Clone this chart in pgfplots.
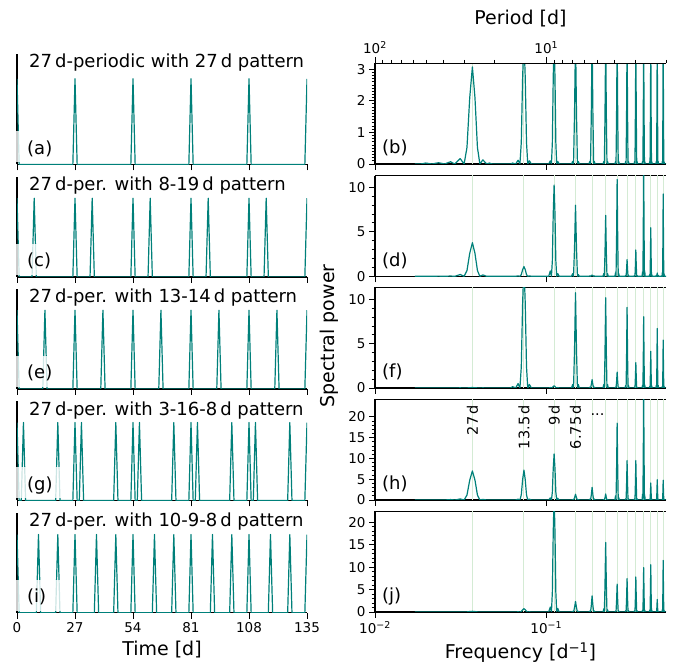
\documentclass[border=0pt]{standalone}
\usepackage{fontspec}
\setmainfont{DejaVu Sans}
\usepackage{pgfplots}
\usepackage{pgfplotstable}
\pgfplotsset{compat=1.18}
\definecolor{tl}{RGB}{0,128,122}
\definecolor{hg}{RGB}{212,235,212}
\newcommand\fs[1]{\fontsize{#1}{#1}\selectfont}

\pgfplotstableread{
f pb pd pf ph pj
0.0171 0 0 0 0 0
0.0185 0 0 0 0 0
0.0198 0.03 0 0 0.02 0
0.0215 0 0 0 0 0
0.0235 0.04 0.02 0 0.03 0
0.0255 0 0 0 0 0
0.0276 0.07 0.03 0 0.1 0
0.02924 0 0 0 0 0
0.03144 0.17 0.2 0.02 0.25 0.02
0.03314 0 0 0 0 0
0.03444 0.525 0.646 0.009 1.197 0.026
0.03574 2.100 2.586 0.034 4.788 0.103
0.03704 3.07 3.78 0.05 7.0 0.15
0.03834 2.100 2.586 0.034 4.788 0.103
0.03964 0.525 0.646 0.009 1.197 0.026
0.04094 0 0 0 0 0
0.04264 0.13 0.15 0.02 0.15 0.02
0.04484 0 0 0 0 0
0.0465 0.03 0 0 0 0
0.0485 0 0 0 0 0
0.0620 0 0 0 0 0
0.0636 0.03 0 0.15 0 0
0.06627 0 0 0 0 0
0.06847 0.12 0.05 0.5 0.2 0.05
0.07017 0 0 0 0 0
0.07147 0.684 0.186 2.394 1.231 0.127
0.07277 2.736 0.746 9.576 4.925 0.506
0.07407 4 1.09 14 7.2 0.74
0.07537 2.736 0.746 9.576 4.925 0.506
0.07667 0.684 0.186 2.394 1.231 0.127
0.07797 0 0 0 0 0
0.07967 0.10 0.05 0.4 0.2 0.05
0.08187 0 0 0 0 0
0.10331 0 0 0 0 0
0.10551 0.10 0.6 0.05 0.5 1.1
0.10721 0 0 0 0 0
0.10851 0.684 1.754 0.043 1.898 4.446
0.10981 2.736 7.018 0.171 7.592 17.78
0.11111 4 10.26 0.25 11.1 26
0.11241 2.736 7.018 0.171 7.592 17.78
0.11371 0.684 1.754 0.043 1.898 4.446
0.11501 0 0 0 0 0
0.11671 0.08 0.3 0.05 0.4 0.8
0.11891 0 0 0 0 0
0.14035 0 0 0 0 0
0.14255 0.08 0.3 0.4 0.1 0.15
0.14425 0 0 0 0 0
0.14615 1.56 3.11 4.19 0.53 0.92
0.14815 4 7.98 10.75 1.37 2.36
0.15015 1.56 3.11 4.19 0.53 0.92
0.15205 0 0 0 0 0
0.15375 0.08 0.2 0.4 0.1 0.15
0.15595 0 0 0 0 0
0.17739 0 0 0 0 0
0.17959 0.08 0.05 0.1 0.2 0.2
0.18129 0 0 0 0 0
0.18319 1.56 0.06 0.37 1.19 1.40
0.18519 4 0.15 0.94 3.06 3.6
0.18719 1.56 0.06 0.37 1.19 1.40
0.18909 0 0 0 0 0
0.19079 0.08 0.05 0.1 0.2 0.2
0.19299 0 0 0 0 0
0.21442 0 0 0 0 0
0.21662 0.08 0.3 0.4 0.1 0.7
0.21832 0 0 0 0 0
0.22022 1.56 2.67 3.97 0.57 6.05
0.22222 4 6.85 10.19 1.45 15.5
0.22422 1.56 2.67 3.97 0.57 6.05
0.22612 0 0 0 0 0
0.22782 0.08 0.3 0.4 0.1 0.5
0.23002 0 0 0 0 0
0.25146 0 0 0 0 0
0.25366 0.08 0.4 0.1 1.0 0.2
0.25536 0 0 0 0 0
0.25726 1.56 4.25 0.70 7.22 2.42
0.25926 4 10.9 1.8 18.5 6.2
0.26126 1.56 4.25 0.70 7.22 2.42
0.26316 0 0 0 0 0
0.26486 0.08 0.3 0.1 0.6 0.2
0.26706 0 0 0 0 0
0.28850 0 0 0 0 0
0.29070 0.08 0.1 0.3 0.3 0.3
0.29240 0 0 0 0 0
0.29430 1.56 0.73 3.55 3.71 2.91
0.29630 4 1.87 9.1 9.5 7.45
0.29830 1.56 0.73 3.55 3.71 2.91
0.30020 0 0 0 0 0
0.30190 0.08 0.1 0.3 0.3 0.3
0.30410 0 0 0 0 0
0.32553 0 0 0 0 0
0.32773 0.08 0.1 0.1 0.3 0.3
0.32943 0 0 0 0 0
0.33133 1.56 1.15 1.12 3.71 3.04
0.33333 4 2.96 2.86 9.5 7.8
0.33533 1.56 1.15 1.12 3.71 3.04
0.33723 0 0 0 0 0
0.33893 0.08 0.1 0.1 0.3 0.3
0.34113 0 0 0 0 0
0.36257 0 0 0 0 0
0.36477 0.08 0.5 0.3 1.4 0.4
0.36647 0 0 0 0 0
0.36837 1.56 5.07 3.14 10.53 3.86
0.37037 4 13 8.05 27 9.9
0.37237 1.56 5.07 3.14 10.53 3.86
0.37427 0 0 0 0 0
0.37597 0.08 0.5 0.3 1.0 0.4
0.37817 0 0 0 0 0
0.39961 0 0 0 0 0
0.40181 0.08 0.2 0.2 0.2 0.4
0.40351 0 0 0 0 0
0.40541 1.56 2.13 1.61 1.60 4.11
0.40741 4 5.47 4.14 4.1 10.55
0.40941 1.56 2.13 1.61 1.60 4.11
0.41131 0 0 0 0 0
0.41301 0.08 0.2 0.2 0.2 0.4
0.41521 0 0 0 0 0
0.43664 0 0 0 0 0
0.43884 0.08 0.1 0.3 0.2 0.15
0.44054 0 0 0 0 0
0.44244 1.56 0.14 2.62 1.91 1.09
0.44444 4 0.37 6.73 4.9 2.8
0.44644 1.56 0.14 2.62 1.91 1.09
0.44834 0 0 0 0 0
0.45004 0.08 0.1 0.3 0.2 0.15
0.45224 0 0 0 0 0
0.47368 0 0 0 0 0
0.47588 0.08 0.4 0.2 0.2 0.5
0.47758 0 0 0 0 0
0.47948 1.56 3.61 2.11 1.85 4.49
0.48148 4 9.25 5.41 4.75 11.5
0.48348 1.56 3.61 2.11 1.85 4.49
0.48538 0 0 0 0 0
0.48708 0.08 0.3 0.2 0.2 0.4
0.48928 0 0 0 0 0
0.5 0 0 0 0 0
}\spec

\pgfplotstableread{
f top
0.037037 100
0.074074 100
0.111111 100
0.148148 100
0.185185 100
0.222222 100
0.259259 100
0.296296 100
0.333333 100
0.370370 100
0.407407 100
0.444444 100
0.481481 100
}\harm

\pgfplotsset{
  mybase/.style={scale only axis, anchor=south west, clip mode=individual,
    tick style={black, line width=0.9pt},
    major tick length=6pt, minor tick length=3.5pt,
    tick label style={font=\fs{13.5}},
    /pgf/number format/assume math mode=true},
  mylines/.style={axis line style={-, line width=1.1pt, black}},
  mylp/.style 2 args={mybase, at={(17pt,#1)}, width=290pt, height=#2,
    xmin=0, xmax=135, ymin=0,
    axis x line=bottom, axis y line=left, mylines, tick align=outside,
    ytick=\empty, xtick={0,27,54,81,108,135}},
  myrp/.style 2 args={mybase, at={(375pt,#1)}, width=291pt, height=100.5pt,
    xmin=0.01, xmax=0.5, ymin=0, ymax=#2,
    axis x line=box, axis y line=left, mylines, tick align=outside,
    xtick pos=left, xtick={0.01,0.1}, xminorticks=false},
  spk/.style={tl, line width=1.2pt, line join=round},
  hl/.style={hg, line width=1pt, ycomb, no marks},
}

\begin{document}
\begin{tikzpicture}
\useasboundingbox (0pt,0pt) rectangle (678pt,669pt);

% ---------------- left column ----------------
\begin{axis}[mylp={504.5pt}{110.5pt}, ymax=1.29, xticklabels={}]
\addplot[spk] coordinates {(0,1)(1,0)(26,0)(27,1)(28,0)(53,0)(54,1)(55,0)(80,0)(81,1)(82,0)(107,0)(108,1)(109,0)(134,0)(135,1)};
\fill[white, fill opacity=0.8] ([xshift=-1.5pt,yshift=2pt]rel axis cs:0,0) rectangle ([xshift=44pt,yshift=33pt]rel axis cs:0,0);
\node[anchor=base west, inner sep=0pt, font=\fs{18}] at ([xshift=10pt,yshift=10pt]rel axis cs:0,0) {(a)};
\node[anchor=north west, inner sep=0pt, font=\fs{18}] at ([xshift=12pt]rel axis cs:0,1) {27\,d-periodic with 27\,d pattern};
\end{axis}

\begin{axis}[mylp={392pt}{100pt}, ymax=1.27, xticklabels={}]
\addplot[spk] coordinates {(0,1)(1,0)(7,0)(8,1)(9,0)(26,0)(27,1)(28,0)(34,0)(35,1)(36,0)(53,0)(54,1)(55,0)(61,0)(62,1)(63,0)(80,0)(81,1)(82,0)(88,0)(89,1)(90,0)(107,0)(108,1)(109,0)(115,0)(116,1)(117,0)(134,0)(135,1)};
\fill[white, fill opacity=0.8] ([xshift=-1.5pt,yshift=2pt]rel axis cs:0,0) rectangle ([xshift=44pt,yshift=33pt]rel axis cs:0,0);
\node[anchor=base west, inner sep=0pt, font=\fs{18}] at ([xshift=10pt,yshift=10pt]rel axis cs:0,0) {(c)};
\node[anchor=north west, inner sep=0pt, font=\fs{18}] at ([xshift=12pt]rel axis cs:0,1) {27\,d-per. with 8-19\,d pattern};
\end{axis}

\begin{axis}[mylp={280pt}{100pt}, ymax=1.27, xticklabels={}]
\addplot[spk] coordinates {(0,1)(1,0)(12,0)(13,1)(14,0)(26,0)(27,1)(28,0)(39,0)(40,1)(41,0)(53,0)(54,1)(55,0)(66,0)(67,1)(68,0)(80,0)(81,1)(82,0)(93,0)(94,1)(95,0)(107,0)(108,1)(109,0)(120,0)(121,1)(122,0)(134,0)(135,1)};
\fill[white, fill opacity=0.8] ([xshift=-1.5pt,yshift=2pt]rel axis cs:0,0) rectangle ([xshift=44pt,yshift=33pt]rel axis cs:0,0);
\node[anchor=base west, inner sep=0pt, font=\fs{18}] at ([xshift=10pt,yshift=10pt]rel axis cs:0,0) {(e)};
\node[anchor=north west, inner sep=0pt, font=\fs{18}] at ([xshift=12pt]rel axis cs:0,1) {27\,d-per. with 13-14\,d pattern};
\end{axis}

\begin{axis}[mylp={168.5pt}{99pt}, ymax=1.27, xticklabels={}]
\addplot[spk] coordinates {(0,1)(1,0)(2,0)(3,1)(4,0)(18,0)(19,1)(20,0)(26,0)(27,1)(28,0)(29,0)(30,1)(31,0)(45,0)(46,1)(47,0)(53,0)(54,1)(55,0)(56,0)(57,1)(58,0)(72,0)(73,1)(74,0)(80,0)(81,1)(82,0)(83,0)(84,1)(85,0)(99,0)(100,1)(101,0)(107,0)(108,1)(109,0)(110,0)(111,1)(112,0)(126,0)(127,1)(128,0)(134,0)(135,1)};
\fill[white, fill opacity=0.8] ([xshift=-1.5pt,yshift=2pt]rel axis cs:0,0) rectangle ([xshift=44pt,yshift=33pt]rel axis cs:0,0);
\node[anchor=base west, inner sep=0pt, font=\fs{18}] at ([xshift=10pt,yshift=10pt]rel axis cs:0,0) {(g)};
\node[anchor=north west, inner sep=0pt, font=\fs{18}] at ([xshift=12pt]rel axis cs:0,1) {27\,d-per. with 3-16-8\,d pattern};
\end{axis}

\begin{axis}[mylp={56.3pt}{100pt}, ymax=1.28, xticklabels={0,27,54,81,108,135}]
\addplot[spk] coordinates {(0,1)(1,0)(9,0)(10,1)(11,0)(18,0)(19,1)(20,0)(26,0)(27,1)(28,0)(36,0)(37,1)(38,0)(45,0)(46,1)(47,0)(53,0)(54,1)(55,0)(63,0)(64,1)(65,0)(72,0)(73,1)(74,0)(80,0)(81,1)(82,0)(90,0)(91,1)(92,0)(99,0)(100,1)(101,0)(107,0)(108,1)(109,0)(117,0)(118,1)(119,0)(126,0)(127,1)(128,0)(134,0)(135,1)};
\fill[white, fill opacity=0.8] ([xshift=-1.5pt,yshift=2pt]rel axis cs:0,0) rectangle ([xshift=44pt,yshift=33pt]rel axis cs:0,0);
\node[anchor=base west, inner sep=0pt, font=\fs{18}] at ([xshift=10pt,yshift=10pt]rel axis cs:0,0) {(i)};
\node[anchor=north west, inner sep=0pt, font=\fs{18}] at ([xshift=12pt]rel axis cs:0,1) {27\,d-per. with 10-9-8\,d pattern};
\end{axis}

% ---------------- right column ----------------
\begin{axis}[xmode=log, myrp={505pt}{3.18}, ytick={0,1,2,3}, minor y tick num=9, xticklabels={}]
\addplot[hl] table[x=f, y=top] {\harm};
\addplot[spk] table[x=f, y=pb] {\spec};
\node[anchor=base west, inner sep=0pt, font=\fs{18}] at ([xshift=7pt,yshift=10pt]rel axis cs:0,0) {(b)};
\end{axis}
\begin{axis}[xmode=log, mybase, at={(375pt,505pt)}, width=291pt, height=100.5pt,
  xmin=0.01, xmax=0.5, ymin=0, ymax=1,
  axis x line*=top, axis y line=none, mylines, tick align=outside,
  xtick={0.01,0.1}, xticklabels={10\textsuperscript{2},10\textsuperscript{1}},
  minor xtick={0.0111111,0.0125,0.0142857,0.0166667,0.02,0.025,0.0333333,0.05,0.111111,0.125,0.142857,0.166667,0.2,0.25,0.333333,0.5}]
\addplot[draw=none] coordinates {(0.1,0.5)};
\end{axis}

\begin{axis}[xmode=log, myrp={392.7pt}{11.3}, ytick={0,5,10}, minor y tick num=4, xticklabels={}]
\addplot[hl] table[x=f, y=top] {\harm};
\addplot[spk] table[x=f, y=pd] {\spec};
\node[anchor=base west, inner sep=0pt, font=\fs{18}] at ([xshift=7pt,yshift=10pt]rel axis cs:0,0) {(d)};
\end{axis}

\begin{axis}[xmode=log, myrp={281pt}{11.35}, ytick={0,5,10}, minor y tick num=4, xticklabels={}]
\addplot[hl] table[x=f, y=top] {\harm};
\addplot[spk] table[x=f, y=pf] {\spec};
\node[anchor=base west, inner sep=0pt, font=\fs{18}] at ([xshift=7pt,yshift=10pt]rel axis cs:0,0) {(f)};
\end{axis}

\begin{axis}[xmode=log, myrp={169pt}{24.2}, ytick={0,5,10,15,20}, minor y tick num=4, xticklabels={}]
\addplot[hl] table[x=f, y=top] {\harm};
\addplot[spk] table[x=f, y=ph] {\spec};
\node[anchor=base west, inner sep=0pt, font=\fs{18}] at ([xshift=7pt,yshift=10pt]rel axis cs:0,0) {(h)};
\node[rotate=90, anchor=east, inner sep=0pt, font=\fs{14.5}] at (axis cs:0.037037,22.9) {27\,d};
\node[rotate=90, anchor=east, inner sep=0pt, font=\fs{14.5}] at (axis cs:0.074074,22.9) {13.5\,d};
\node[rotate=90, anchor=east, inner sep=0pt, font=\fs{14.5}] at (axis cs:0.111111,22.9) {9\,d};
\node[rotate=90, anchor=east, inner sep=0pt, font=\fs{14.5}] at (axis cs:0.148148,22.9) {6.75\,d};
\node[anchor=base, inner sep=0pt, font=\fs{14.5}] at (axis cs:0.199,20.3) {...};
\end{axis}

\begin{axis}[xmode=log, myrp={57pt}{22.4}, ytick={0,5,10,15,20}, minor y tick num=4,
  xticklabels={10\textsuperscript{−2},10\textsuperscript{−1}}]
\addplot[hl] table[x=f, y=top] {\harm};
\addplot[spk] table[x=f, y=pj] {\spec};
\node[anchor=base west, inner sep=0pt, font=\fs{18}] at ([xshift=7pt,yshift=10pt]rel axis cs:0,0) {(j)};
\end{axis}

% ---------------- labels ----------------
\node[anchor=base, inner sep=0pt, font=\fs{19}] at (162pt,13pt) {Time [d]};
\node[anchor=base, inner sep=0pt, font=\fs{19}] at (520.5pt,10pt) {Frequency [d\textsuperscript{−1}]};
\node[anchor=base, inner sep=0pt, font=\fs{19}] at (520.5pt,644pt) {Period [d]};
\node[anchor=base, rotate=90, inner sep=0pt, font=\fs{19}] at (334pt,333pt) {Spectral power};
\end{tikzpicture}
\end{document}
